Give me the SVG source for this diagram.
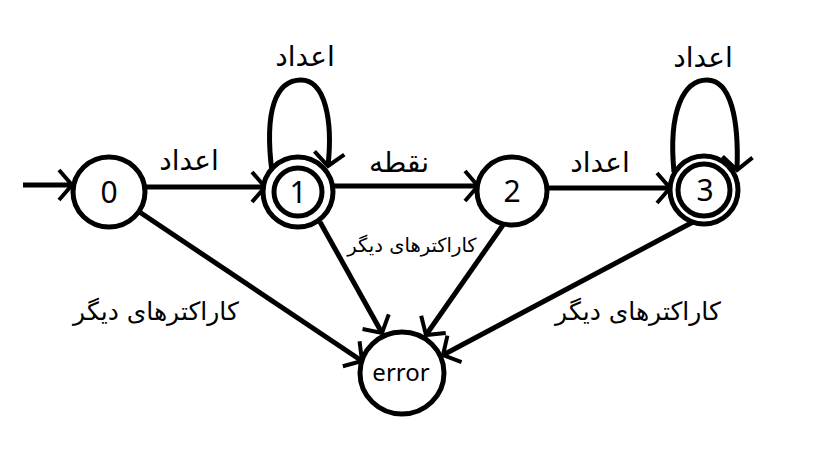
<svg xmlns="http://www.w3.org/2000/svg" width="819" height="460" viewBox="0 0 819 460">
<defs>
<marker id="arr" markerUnits="userSpaceOnUse" markerWidth="40" markerHeight="40" refX="20" refY="20" orient="auto" overflow="visible">
<path d="M7,5 L20,20 L7,35" fill="none" stroke="#000" stroke-width="4" stroke-linejoin="miter"/>
</marker>
<style>
.st{fill:#fff;stroke:#000;stroke-width:5}
.in{fill:none;stroke:#000;stroke-width:5}
.e{fill:none;stroke:#000;stroke-width:5;marker-end:url(#arr)}
.num{font-family:"Noto Sans","DejaVu Sans",sans-serif;font-size:30px;text-anchor:middle;fill:#000}
.err{font-family:"Noto Sans","DejaVu Sans",sans-serif;font-size:24px;text-anchor:middle;fill:#000}
.lb{font-family:"DejaVu Sans",sans-serif;font-size:28px;text-anchor:middle;fill:#000}
.lg{font-family:"DejaVu Sans",sans-serif;font-size:25px;text-anchor:middle;fill:#000}
.sm{font-family:"DejaVu Sans",sans-serif;font-size:19.5px;text-anchor:middle;fill:#000}
</style>
</defs>
<rect width="819" height="460" fill="#fff"/>
<g id="connectors">
<line class="e" x1="23" y1="185" x2="72" y2="185"/>
<line class="e" x1="145" y1="187" x2="265" y2="187"/>
<line class="e" x1="333" y1="186" x2="478" y2="186"/>
<line class="e" x1="547" y1="188" x2="670" y2="188"/>
<path class="e" d="M272,172 C264,110 276,80 301,80 C325,80 333,120 328,166"/>
<path class="e" d="M674,172 C668,110 684,80 707,80 C731,80 739,120 737,170"/>
<line class="e" x1="138" y1="211" x2="362" y2="361"/>
<line class="e" x1="320" y1="222" x2="382" y2="333"/>
<line class="e" x1="503" y1="225" x2="426" y2="335"/>
<line class="e" x1="693" y1="222" x2="443" y2="355"/>
<text class="lb" x="305" y="66">اعداد</text>
<text class="lb" x="189" y="170">اعداد</text>
<text class="lb" x="399" y="172">نقطه</text>
<text class="lb" x="600" y="172">اعداد</text>
<text class="lb" x="703" y="67">اعداد</text>
<text class="sm" x="412" y="252">کاراکترهای دیگر</text>
<text class="lg" x="156" y="320">کاراکترهای دیگر</text>
<text class="lg" x="638" y="320">کاراکترهای دیگر</text>
</g>
<g id="node0">
<ellipse class="st" cx="109" cy="192" rx="36" ry="35"/>
<text class="num" x="109" y="203">0</text>
</g>
<g id="node1">
<ellipse class="st" cx="298" cy="192" rx="35" ry="35"/>
<circle class="in" cx="298" cy="192" r="24"/>
<text class="num" x="298" y="203">1</text>
</g>
<g id="node2">
<ellipse class="st" cx="512" cy="191" rx="35" ry="34"/>
<text class="num" x="512" y="202">2</text>
</g>
<g id="node3">
<ellipse class="st" cx="704" cy="190" rx="34" ry="34"/>
<circle class="in" cx="704" cy="190" r="26"/>
<text class="num" x="705" y="201">3</text>
</g>
<g id="error">
<ellipse class="st" cx="402" cy="373" rx="42" ry="41"/>
<text class="err" x="401" y="381">error</text>
</g>
</svg>
